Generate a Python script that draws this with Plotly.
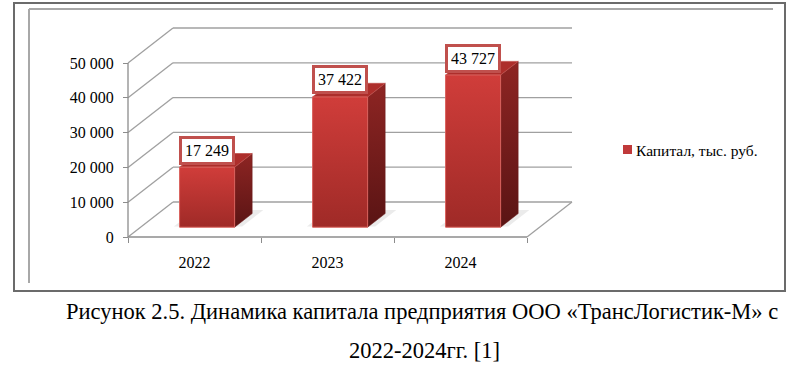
import plotly.graph_objects as go

# ---------------- data ----------------
categories = ["2022", "2023", "2024"]
values = [17249, 37422, 43727]
value_labels = ["17 249", "37 422", "43 727"]
y_tickvals = [0, 10000, 20000, 30000, 40000, 50000]
y_ticktext = ["0", "10 000", "20 000", "30 000", "40 000", "50 000"]
series_name = "Капитал, тыс. руб."
caption_line1 = "Рисунок 2.5. Динамика капитала предприятия ООО «ТрансЛогистик-М» с"
caption_line2 = "2022-2024гг. [1]"

# ---------------- layout constants ----------------
W, H = 800, 380
FONT = "Times New Roman, Liberation Serif, serif"
X0_PX, CAT_PX = 128, 133.0       # front plane left edge and category width (px)
Y0_PX, VAL_PX = 237, 174 / 50000  # front plane baseline and px per value unit
DX = 45 / CAT_PX                  # depth projection in category units
DY = 35 / VAL_PX                  # depth projection in value units
BAR_W = 0.414
D_FRONT, D_BACK = 0.28, 0.67

x_range = [-0.5 - X0_PX / CAT_PX, -0.5 + (W - X0_PX) / CAT_PX]
y_range = [(Y0_PX - H) / VAL_PX, Y0_PX / VAL_PX]


def proj(c, d, v):
    return c + d * DX, v + d * DY


def px(x):
    return x / W


def py(y):
    return 1 - y / H


fig = go.Figure()

# ---------------- walls / grid ----------------
n = len(categories)
gx, gy = [], []
for t in y_tickvals:
    a = proj(-0.5, 1, t)
    b = proj(n - 0.5, 1, t)
    gx += [a[0], b[0], None]
    gy += [a[1], b[1], None]
    a = proj(-0.5, 0, t)
    b = proj(-0.5, 1, t)
    gx += [a[0], b[0], None]
    gy += [a[1], b[1], None]
a = proj(n - 0.5, 0, 0)
b = proj(n - 0.5, 1, 0)
gx += [a[0], b[0], None]
gy += [a[1], b[1], None]
fig.add_trace(go.Scatter(x=gx, y=gy, mode="lines", line=dict(color="#a0a0a0", width=1.3),
                         hoverinfo="skip", showlegend=False))

fig.add_trace(go.Scatter(x=[-0.5, -0.5, None, -0.5, n - 0.5],
                         y=[y_tickvals[-1], 0, None, 0, 0], mode="lines",
                         line=dict(color="#8c8c8c", width=1.3), hoverinfo="skip", showlegend=False))

# ---------------- bars ----------------
for i, v in enumerate(values):
    xl, xr = i - BAR_W / 2, i + BAR_W / 2
    e = 0.05
    pts = [proj(xl - e, D_FRONT + 0.02, 0), proj(xr + e, D_FRONT + 0.02, 0),
           proj(xr + e, D_BACK + 0.1, 0), proj(xl - e, D_BACK + 0.1, 0)]
    fig.add_trace(go.Scatter(x=[p[0] for p in pts] + [pts[0][0]], y=[p[1] for p in pts] + [pts[0][1]],
                             fill="toself", fillcolor="rgba(0,0,0,0.08)", mode="lines",
                             line=dict(width=0), hoverinfo="skip", showlegend=False))
    pts = [proj(xr, D_FRONT, 0), proj(xr, D_BACK, 0), proj(xr, D_BACK, v), proj(xr, D_FRONT, v)]
    fig.add_trace(go.Scatter(x=[p[0] for p in pts] + [pts[0][0]], y=[p[1] for p in pts] + [pts[0][1]],
                             fill="toself", mode="lines", line=dict(width=0.5, color="#6a1a1a"),
                             fillgradient=dict(type="vertical", colorscale=[[0, "#5a1414"], [1, "#8e2523"]]),
                             hoverinfo="skip", showlegend=False))
    pts = [proj(xl, D_FRONT, v), proj(xr, D_FRONT, v), proj(xr, D_BACK, v), proj(xl, D_BACK, v)]
    fig.add_trace(go.Scatter(x=[p[0] for p in pts] + [pts[0][0]], y=[p[1] for p in pts] + [pts[0][1]],
                             fill="toself", fillcolor="#ad2e2b", mode="lines",
                             line=dict(width=0.8, color="#c0504d"), hoverinfo="skip", showlegend=False))
    pts = [proj(xl, D_FRONT, 0), proj(xr, D_FRONT, 0), proj(xr, D_FRONT, v), proj(xl, D_FRONT, v)]
    fig.add_trace(go.Scatter(x=[p[0] for p in pts] + [pts[0][0]], y=[p[1] for p in pts] + [pts[0][1]],
                             fill="toself", mode="lines", line=dict(width=1, color="#d9605c"),
                             fillgradient=dict(type="vertical", colorscale=[[0, "#9f2a27"], [1, "#d03d3a"]]),
                             hoverinfo="skip", showlegend=False))

# ---------------- data labels ----------------
annotations = []
for i, (v, lab) in enumerate(zip(values, value_labels)):
    cx, cy = proj(i, D_FRONT, v)
    annotations.append(dict(x=cx, y=cy, xref="x", yref="y", text=lab, showarrow=False,
                            yshift=17, font=dict(family=FONT, size=16, color="#000000"),
                            bgcolor="#ffffff", bordercolor="#c0504d", borderwidth=3, borderpad=3))

annotations.append(dict(x=px(634), y=py(150), xref="paper", yref="paper", xanchor="left", yanchor="middle",
                        text=series_name, showarrow=False, font=dict(family=FONT, size=15.5, color="#000000")))
annotations.append(dict(x=px(422), y=py(311), xref="paper", yref="paper", xanchor="center", yanchor="middle",
                        text=caption_line1, showarrow=False, font=dict(family=FONT, size=22.5, color="#000000")))
annotations.append(dict(x=px(424), y=py(350), xref="paper", yref="paper", xanchor="center", yanchor="middle",
                        text=caption_line2, showarrow=False, font=dict(family=FONT, size=22.5, color="#000000")))

shapes = [
    dict(type="rect", xref="paper", yref="paper", x0=px(14), y0=py(3), x1=px(785), y1=py(291),
         line=dict(color="#6b6b6b", width=2), layer="below"),
    dict(type="line", xref="paper", yref="paper", x0=px(29), y0=py(9), x1=px(29), y1=py(283),
         line=dict(color="#a8a8a8", width=2)),
    dict(type="line", xref="paper", yref="paper", x0=px(29), y0=py(9), x1=px(773), y1=py(9),
         line=dict(color="#a8a8a8", width=2)),
    dict(type="rect", xref="paper", yref="paper", x0=px(623), y0=py(145), x1=px(632), y1=py(154),
         line=dict(width=0), fillcolor="#c0393a"),
]

fig.update_layout(
    width=W, height=H, margin=dict(l=0, r=0, t=0, b=0),
    paper_bgcolor="#ffffff", plot_bgcolor="#ffffff", showlegend=False,
    annotations=annotations, shapes=shapes,
    xaxis=dict(range=x_range, domain=[0, 1], anchor="free", position=(H - Y0_PX) / H,
               tickmode="array", tickvals=list(range(n)), ticktext=categories, ticks="",
               tickfont=dict(family=FONT, size=16, color="#000000"), ticklabelstandoff=14,
               minor=dict(tickmode="array", tickvals=[k - 0.5 for k in range(n + 1)], ticks="outside",
                          ticklen=5, tickcolor="#8c8c8c", showgrid=False),
               showgrid=False, zeroline=False, showline=False, fixedrange=True),
    yaxis=dict(range=y_range, domain=[0, 1], anchor="free", position=X0_PX / W,
               tickmode="array", tickvals=y_tickvals, ticktext=y_ticktext, ticks="outside",
               ticklen=5, tickcolor="#8c8c8c", ticklabelstandoff=6,
               tickfont=dict(family=FONT, size=16, color="#000000"),
               showgrid=False, zeroline=False, showline=False, fixedrange=True),
)

fig.write_html("out.html", config={"displayModeBar": False},
               post_script="document.body.style.margin='0';")
